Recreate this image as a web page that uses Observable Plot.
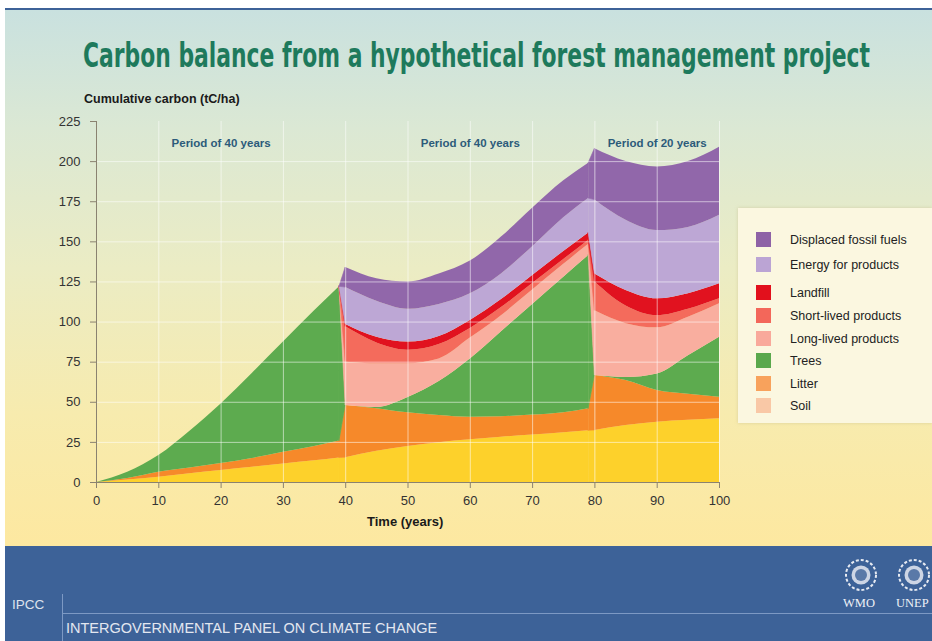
<!DOCTYPE html>
<html>
<head>
<meta charset="utf-8">
<script src="https://cdn.jsdelivr.net/npm/d3@7"></script>
<script src="https://cdn.jsdelivr.net/npm/@observablehq/plot@0.6"></script>
<style>
html,body{margin:0;padding:0;background:#fff;width:932px;height:641px;overflow:hidden;font-family:"Liberation Sans",Arial,Helvetica,sans-serif;}
#page{position:absolute;left:0;top:0;width:932px;height:641px;overflow:hidden;}
#panel{position:absolute;left:5px;top:8px;width:927px;height:538px;border-top:2px solid #3d6298;
  background:linear-gradient(180deg,#c9e1df 0%,#dbe8d4 22%,#ebecc4 48%,#f7ebae 75%,#fde8a0 100%);}
#banner{position:absolute;left:5px;top:546px;width:927px;height:95px;background:#3d6298;}
#plot{position:absolute;left:0;top:110px;}
.lbl{position:absolute;white-space:nowrap;color:#1a1a1a;font-weight:bold;}
#legend{position:absolute;left:738px;top:208px;width:194px;height:215px;background:#fbf7e0;box-shadow:0 0 3px rgba(200,190,140,0.6);}
.item{position:absolute;left:0;height:16px;font-size:12.5px;color:#222;line-height:16px;}
.sw{position:absolute;left:18px;top:0;width:15px;height:15px;}
.tx{position:absolute;left:52px;top:0;white-space:nowrap;}
#deco{position:absolute;left:0;top:0;}
</style>
</head>
<body>
<div id="page">
  <div id="panel"></div>
  <div id="banner"></div>
  <div id="plot"></div>
  <div class="lbl" style="left:84px;top:92px;font-size:12.5px;">Cumulative carbon (tC/ha)</div>
  <div class="lbl" style="left:367px;top:514px;font-size:13px;">Time (years)</div>
  <div id="legend"></div>
  <svg id="deco" width="932" height="641"></svg>
</div>
<script>
// ---- data ----
const years      = [0, 5, 10, 15, 20, 25, 30, 35, 39, 40, 45, 50, 55, 60, 65, 70, 75, 79, 80, 85, 90, 95, 100];
// layer thickness, tC/ha
const soil       = [0, 1.5, 3.3, 5.5, 7.5, 9.5, 11.6, 13.5, 15.3, 15.5, 19.4, 22.4, 24.8, 26.6, 28.2, 29.6, 31, 32.2, 32.4, 35.5, 37.6, 38.8, 39.7];
const litter     = [0, 1.0, 3.1, 3.5, 4.3, 5.5, 7.3, 9.0, 10.5, 32.5, 26.6, 21.0, 17.0, 14.1, 12.8, 12.4, 12.5, 13.8, 34.3, 28, 19.8, 16.2, 13.5];
const trees      = [0, 3.9, 10.4, 23, 37.2, 53, 68.6, 84.5, 96.2, 0, 0.8, 9.6, 21.2, 36.3, 53, 69, 84.5, 95.5, 0, 2, 10.3, 24, 37.4];
const longLived  = [0, 0, 0, 0, 0, 0, 0, 0, 0, 27, 27.2, 21, 14, 13, 10, 9, 8, 7, 40.3, 33.5, 28.7, 24, 20.8];
const shortLived = [0, 0, 0, 0, 0, 0, 0, 0, 0, 22, 13, 8.5, 9, 6, 5, 4, 3, 2.5, 18, 11, 7.6, 5, 3.1];
const landfill   = [0, 0, 0, 0, 0, 0, 0, 0, 0, 1.5, 3.5, 5, 5, 5, 5, 5, 5, 4.5, 5, 9.7, 10.5, 9.7, 9.3];
const energy     = [0, 0, 0, 0, 0, 0, 0, 0, 0, 23, 22.5, 20.5, 20, 16.6, 16, 18, 21, 21.5, 46, 43.7, 42.5, 41.3, 42.7];
const displaced  = [0, 0, 0, 0, 0, 0, 0, 0, 0, 12.5, 14, 17, 19, 20.4, 23, 24, 23, 22, 32, 36.6, 39.7, 41, 42.5];

const series = ["Soil", "Litter", "Trees", "Long-lived products", "Short-lived products", "Landfill", "Energy for products", "Displaced fossil fuels"];
const seriesValues = [soil, litter, trees, longLived, shortLived, landfill, energy, displaced];
const areaColors   = ["#fdd12b", "#f6892a", "#5dab4f", "#f9ae9f", "#f46b5c", "#e1121f", "#bda7d5", "#9167aa"];
const swatchColors = ["#f9c8a6", "#f8a25c", "#5aa84c", "#f9a99b", "#f3675a", "#e2101c", "#bba4d4", "#8e62a6"];

const xTicks = [0, 10, 20, 30, 40, 50, 60, 70, 80, 90, 100];
const yTicks = [0, 25, 50, 75, 100, 125, 150, 175, 200, 225];

const periodLabel = ["Period of 40 years", "Period of 40 years", "Period of 20 years"];
const periodStart = [0, 40, 80];
const periodEnd   = [40, 80, 100];
// harvest steps: last year before harvest -> first year after
const harvestFrom = [39, 79];
const harvestTo   = [40, 80];

// ---- tidy table ----
const tidy = [];
series.forEach((s, k) => years.forEach((yr, i) => tidy.push({series: s, year: yr, value: seriesValues[k][i]})));

// smooth growth inside a period, straight step at a harvest
const smoothPeriod = yr => { let p = 0; harvestTo.forEach(h => { if (yr >= h) p++; }); return p; };
const stepOf = yr => { const i = harvestFrom.indexOf(yr); if (i >= 0) return i; return harvestTo.indexOf(yr); };

const axisColor = "#8a8270";
const chart = Plot.plot({
  width: 932, height: 400,
  marginLeft: 96, marginRight: 213, marginTop: 11, marginBottom: 28,
  x: {domain: [0, 100]},
  y: {domain: [0, 225]},
  color: {domain: series, range: areaColors},
  style: {background: "transparent", fontFamily: "'Liberation Sans', Arial, sans-serif", fontSize: "13px", color: "#333", overflow: "visible"},
  marks: [
    Plot.areaY(tidy, {x: "year", y: "value", z: d => d.series + "|" + smoothPeriod(d.year), fill: "series", order: null, curve: "monotone-x"}),
    Plot.areaY(tidy, {filter: d => stepOf(d.year) >= 0, x: "year", y: "value", z: d => d.series + "|" + stepOf(d.year), fill: "series", stroke: "series", strokeWidth: 0.6, order: null, curve: "linear"}),
    Plot.ruleY(yTicks.filter(d => d > 0 && d < 225), {stroke: "#ffffff", strokeOpacity: 0.55}),
    Plot.ruleX(xTicks.filter(d => d > 0), {y1: 0, y2: 225, stroke: "#ffffff", strokeOpacity: 0.55}),
    Plot.ruleX([0], {y1: 0, y2: 225, stroke: axisColor}),
    Plot.ruleY([0], {stroke: axisColor}),
    Plot.axisY(yTicks, {tickSize: 6, tickPadding: 10, stroke: axisColor, fill: "#333", fontSize: 13, label: null}),
    Plot.axisX(xTicks, {tickSize: 6, tickPadding: 7, stroke: axisColor, fill: "#333", fontSize: 13, label: null}),
    Plot.text(periodLabel, {x: (d, i) => (periodStart[i] + periodEnd[i]) / 2, text: d => d, frameAnchor: "top", dy: 17,
      fill: "#2c5b7a", fontWeight: "bold", fontSize: 11.5})
  ]
});
document.getElementById("plot").appendChild(chart);

// ---- legend ----
const legend = document.getElementById("legend");
const rowTops = [24, 49, 77, 100, 123, 145, 168, 190];
series.slice().reverse().forEach((s, j) => {
  const k = series.length - 1 - j;
  const it = document.createElement("div");
  it.className = "item";
  it.style.top = rowTops[j] + "px";
  it.innerHTML = `<div class="sw" style="background:${swatchColors[k]}"></div><div class="tx">${s}</div>`;
  legend.appendChild(it);
});

// ---- title and banner decoration ----
const ns = "http://www.w3.org/2000/svg";
const deco = document.getElementById("deco");
function el(tag, attrs, text) {
  const e = document.createElementNS(ns, tag);
  for (const k in attrs) e.setAttribute(k, attrs[k]);
  if (text) e.textContent = text;
  deco.appendChild(e);
  return e;
}
el("text", {x: 83, y: 49.5, "font-size": 25, "font-weight": "bold", fill: "#1e7a5c", transform: "scale(1,1.36)",
  "font-family": "'Liberation Sans Narrow','DejaVu Sans Condensed','Liberation Sans',Arial,sans-serif",
  textLength: 787, lengthAdjust: "spacingAndGlyphs"}, "Carbon balance from a hypothetical forest management project");
el("text", {x: 12, y: 609, "font-size": 13.5, fill: "#dde3ee", "font-family": "'Liberation Sans',Arial,sans-serif"}, "IPCC");
el("line", {x1: 62.5, y1: 594, x2: 62.5, y2: 641, stroke: "#7d99c4", "stroke-width": 1});
el("line", {x1: 62.5, y1: 613.5, x2: 932, y2: 613.5, stroke: "#7d99c4", "stroke-width": 1});
el("text", {x: 66, y: 633, "font-size": 14.5, fill: "#e3e7f0", "font-family": "'Liberation Sans',Arial,sans-serif"}, "INTERGOVERNMENTAL PANEL ON CLIMATE CHANGE");
[[861, 575], [914, 575]].forEach(([cx, cy]) => {
  el("circle", {cx, cy, r: 15, fill: "none", stroke: "#e6eaf2", "stroke-width": 2, "stroke-dasharray": "3 2"});
  el("circle", {cx, cy, r: 9.5, fill: "#e6eaf2", opacity: 0.85});
  el("circle", {cx, cy, r: 6, fill: "#3d6298", opacity: 0.8});
});
el("text", {x: 843, y: 607, "font-size": 12.5, fill: "#eef1f7", "font-family": "'Liberation Serif','DejaVu Serif',serif"}, "WMO");
el("text", {x: 896, y: 607, "font-size": 12.5, fill: "#eef1f7", "font-family": "'Liberation Serif','DejaVu Serif',serif"}, "UNEP");
</script>
</body>
</html>
